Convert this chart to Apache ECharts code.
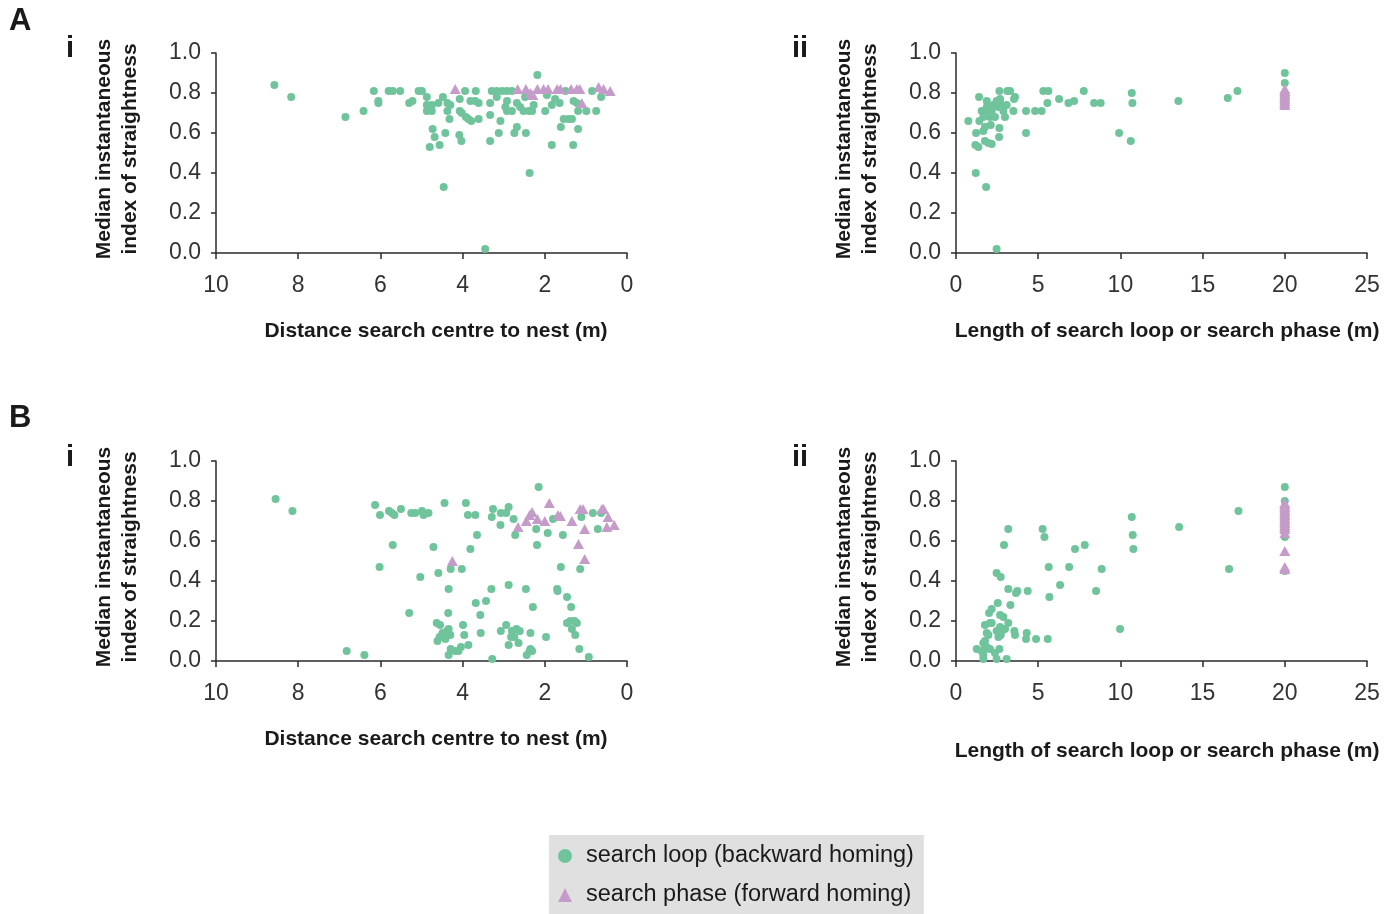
<!DOCTYPE html>
<html><head><meta charset="utf-8">
<script src="https://cdn.jsdelivr.net/npm/echarts@6/dist/echarts.min.js"></script>
<style>html,body{margin:0;padding:0;background:#fff}#c{width:1396px;height:914px}</style>
</head><body><div id="c"></div>
<script>
var seriesNames = ['search loop (backward homing)', 'search phase (forward homing)'];
var xTitleLeft = 'Distance search centre to nest (m)';
var xTitleRight = 'Length of search loop or search phase (m)';
var yTitle = 'Median instantaneous\nindex of straightness';

var aiLoop = [[8.58,0.84],[8.17,0.78],[6.85,0.68],[6.41,0.71],[6.16,0.81],[6.05,0.76],[6.05,0.75],[5.80,0.81],[5.70,0.81],[5.52,0.81],[5.30,0.75],[5.22,0.76],[5.07,0.81],[4.99,0.81],[4.87,0.78],[4.87,0.74],[4.87,0.71],[4.75,0.74],[4.75,0.71],[4.59,0.75],[4.48,0.78],[4.37,0.75],[4.37,0.71],[4.30,0.74],[4.32,0.67],[4.73,0.62],[4.68,0.58],[4.42,0.60],[4.56,0.54],[4.80,0.53],[4.46,0.33],[4.07,0.77],[4.07,0.71],[4.02,0.70],[3.92,0.68],[3.86,0.67],[3.79,0.66],[3.61,0.67],[3.94,0.81],[3.68,0.81],[4.08,0.59],[4.03,0.56],[3.81,0.76],[3.69,0.76],[3.61,0.75],[3.33,0.75],[3.33,0.69],[3.08,0.66],[3.12,0.60],[3.33,0.56],[3.29,0.81],[3.17,0.81],[3.04,0.81],[2.92,0.81],[2.80,0.81],[3.17,0.78],[2.96,0.73],[2.92,0.71],[2.80,0.71],[2.92,0.76],[2.68,0.75],[2.60,0.73],[2.52,0.71],[2.39,0.71],[2.31,0.71],[2.27,0.74],[2.68,0.63],[2.74,0.60],[2.46,0.60],[2.37,0.40],[3.45,0.02],[2.18,0.89],[2.48,0.78],[1.99,0.71],[1.95,0.79],[1.83,0.74],[1.75,0.77],[1.64,0.75],[1.61,0.63],[1.83,0.54],[1.50,0.81],[1.54,0.67],[1.42,0.67],[1.34,0.67],[1.31,0.54],[1.30,0.76],[1.22,0.75],[1.19,0.71],[1.19,0.62],[0.99,0.71],[0.85,0.81],[0.75,0.71],[0.63,0.78]];
var aiPhase = [[4.18,0.82],[2.66,0.82],[2.46,0.82],[2.35,0.80],[2.29,0.79],[2.18,0.82],[2.03,0.82],[1.92,0.82],[1.70,0.82],[1.62,0.82],[1.36,0.82],[1.22,0.82],[1.15,0.82],[1.10,0.75],[0.69,0.83],[0.57,0.82],[0.41,0.81]];

var aiiLoop = [[0.75,0.66],[1.40,0.78],[1.22,0.60],[1.18,0.54],[1.36,0.53],[1.20,0.40],[1.83,0.33],[2.47,0.02],[1.42,0.66],[1.56,0.71],[1.66,0.68],[1.76,0.63],[1.66,0.61],[1.87,0.76],[1.87,0.73],[1.97,0.71],[2.07,0.68],[2.17,0.71],[2.27,0.74],[2.47,0.76],[2.58,0.73],[2.68,0.77],[2.78,0.74],[2.88,0.71],[2.98,0.68],[3.08,0.74],[2.64,0.81],[3.12,0.81],[3.29,0.81],[3.59,0.78],[3.53,0.77],[3.49,0.71],[1.76,0.56],[1.97,0.55],[2.17,0.545],[2.11,0.64],[2.64,0.625],[2.62,0.58],[2.37,0.68],[4.26,0.71],[4.81,0.71],[5.21,0.71],[4.26,0.60],[5.31,0.81],[5.62,0.81],[5.56,0.75],[6.27,0.77],[6.84,0.75],[7.18,0.76],[7.77,0.81],[8.40,0.75],[8.80,0.75],[9.92,0.60],[10.63,0.56],[10.69,0.80],[10.73,0.75],[13.53,0.76],[16.53,0.775],[17.12,0.81],[20,0.90],[20,0.85],[20,0.78]];
var aiiPhase = [[20,0.82],[20,0.81],[20,0.80],[20,0.79],[20,0.78],[20,0.77],[20,0.76],[20,0.75],[20,0.74]];

var biLoop = [[8.55,0.81],[8.14,0.75],[6.82,0.05],[6.39,0.03],[6.13,0.78],[6.01,0.73],[5.79,0.75],[5.72,0.74],[5.66,0.73],[5.50,0.76],[5.25,0.74],[5.15,0.74],[4.99,0.75],[4.95,0.73],[4.83,0.74],[5.70,0.58],[6.02,0.47],[5.30,0.24],[5.03,0.42],[4.71,0.57],[4.59,0.44],[4.44,0.79],[4.29,0.46],[4.02,0.46],[4.34,0.36],[4.35,0.24],[4.63,0.19],[4.55,0.18],[4.49,0.14],[4.38,0.15],[4.34,0.16],[4.37,0.13],[4.30,0.13],[4.61,0.10],[4.56,0.12],[4.42,0.11],[4.29,0.06],[4.18,0.05],[4.10,0.05],[4.04,0.07],[3.86,0.08],[4.34,0.03],[3.99,0.18],[3.96,0.13],[3.92,0.79],[3.87,0.73],[3.69,0.73],[3.81,0.56],[3.65,0.63],[3.68,0.29],[3.57,0.23],[3.56,0.14],[3.43,0.30],[3.30,0.36],[3.26,0.76],[3.29,0.72],[3.28,0.01],[3.08,0.68],[3.07,0.74],[2.94,0.74],[2.88,0.77],[2.94,0.18],[3.07,0.15],[2.88,0.38],[2.80,0.15],[2.82,0.12],[2.74,0.12],[2.69,0.16],[2.61,0.15],[2.64,0.09],[2.88,0.08],[2.76,0.71],[2.72,0.63],[2.46,0.36],[2.29,0.27],[2.35,0.14],[2.35,0.06],[2.31,0.05],[2.44,0.03],[2.37,0.05],[2.21,0.66],[2.19,0.58],[1.97,0.12],[1.93,0.64],[1.80,0.71],[1.61,0.47],[1.70,0.36],[1.69,0.35],[1.46,0.32],[1.36,0.27],[1.46,0.19],[1.38,0.20],[1.28,0.20],[1.22,0.19],[1.34,0.16],[1.26,0.13],[1.16,0.06],[0.93,0.02],[1.56,0.63],[1.14,0.46],[1.11,0.72],[0.83,0.74],[0.71,0.66],[0.63,0.74],[2.15,0.87]];
var biPhase = [[4.25,0.50],[2.65,0.67],[2.45,0.70],[2.37,0.73],[2.31,0.745],[2.18,0.71],[2.00,0.70],[1.89,0.79],[1.68,0.73],[1.62,0.725],[1.34,0.70],[1.18,0.585],[1.14,0.76],[1.07,0.76],[1.03,0.66],[1.03,0.51],[0.61,0.76],[0.57,0.76],[0.49,0.67],[0.46,0.72],[0.31,0.68]];

var biiLoop = [[3.18,0.66],[2.92,0.58],[5.27,0.66],[5.38,0.62],[10.69,0.72],[10.75,0.63],[10.79,0.56],[13.57,0.67],[17.18,0.75],[16.61,0.46],[20,0.87],[20,0.80],[20,0.62],[20,0.45],[7.24,0.56],[7.83,0.58],[5.64,0.47],[6.88,0.47],[8.86,0.46],[6.33,0.38],[8.52,0.35],[5.68,0.32],[9.98,0.16],[2.47,0.44],[2.72,0.42],[3.18,0.36],[3.65,0.34],[3.73,0.35],[4.36,0.35],[3.31,0.28],[2.54,0.29],[2.17,0.26],[2.01,0.24],[2.68,0.23],[2.88,0.22],[3.18,0.19],[1.76,0.18],[2.07,0.19],[2.17,0.19],[1.87,0.14],[1.97,0.13],[2.47,0.15],[2.68,0.17],[2.78,0.15],[2.98,0.16],[2.58,0.12],[2.72,0.13],[3.55,0.15],[3.59,0.13],[4.30,0.14],[4.26,0.11],[4.87,0.11],[5.58,0.11],[1.66,0.09],[1.76,0.10],[1.26,0.06],[1.56,0.05],[1.66,0.03],[1.76,0.06],[2.07,0.06],[2.37,0.04],[2.64,0.06],[3.08,0.01],[1.66,0.01],[1.87,0.07],[2.47,0.01]];
var biiPhase = [[20,0.79],[20,0.78],[20,0.77],[20,0.76],[20,0.75],[20,0.74],[20,0.73],[20,0.72],[20,0.71],[20,0.70],[20,0.69],[20,0.68],[20,0.67],[20,0.66],[20,0.64],[20,0.55],[20,0.47],[20,0.46]];

var GREEN = '#70c49c', PURPLE = '#c59cc9', AX = '#2b2b2b', FONT = '"Liberation Sans", Arial, sans-serif';

var grids = [
  {left:216, top:53, width:411, height:200},
  {left:956, top:53, width:411, height:200},
  {left:216, top:461, width:411, height:200},
  {left:956, top:461, width:411, height:200}
];
function xAx(i, left) {
  return {
    gridIndex:i, type:'value', min:0, max: left ? 10 : 25, interval: left ? 2 : 5, inverse: left,
    axisLine:{show:true, onZero:false, lineStyle:{color:AX, width:1.5}},
    axisTick:{show:true, length:6, lineStyle:{color:AX, width:1.5}},
    axisLabel:{fontSize:23, color:'#333', margin:21, fontFamily:FONT},
    splitLine:{show:false}
  };
}
function yAx(i) {
  return {
    gridIndex:i, type:'value', min:0, max:1, interval:0.2,
    axisLine:{show:true, onZero:false, lineStyle:{color:AX, width:1.5}},
    axisTick:{show:true, length:5, lineStyle:{color:AX, width:1.5}},
    axisLabel:{fontSize:23, color:'#333', margin:15, fontFamily:FONT, formatter:function(v){return v.toFixed(1);}},
    splitLine:{show:false}
  };
}
var loops = [aiLoop, aiiLoop, biLoop, biiLoop];
var phases = [aiPhase, aiiPhase, biPhase, biiPhase];
var series = [];
for (var i = 0; i < 4; i++) {
  series.push({name:seriesNames[0], type:'scatter', xAxisIndex:i, yAxisIndex:i, data:loops[i], symbol:'circle', symbolSize:8, itemStyle:{color:GREEN, opacity:1}, z:2});
  series.push({name:seriesNames[1], type:'scatter', xAxisIndex:i, yAxisIndex:i, data:phases[i], symbol:'triangle', symbolSize:[11,10], itemStyle:{color:PURPLE, opacity:1}, z:3});
}
function txt(x, y, s, font, align, rot) {
  return {type:'text', x:x, y:y, rotation: rot || 0, style:{text:s, font:font, fill:'#1a1a1a', textAlign:align || 'left', textVerticalAlign:'middle', lineHeight:26}};
}
var bold21 = 'bold 21px ' + FONT;
var graphic = [
  txt(9, 21, 'A', 'bold 31px ' + FONT),
  txt(66, 49, 'i', 'bold 29px ' + FONT),
  txt(792, 49, 'ii', 'bold 29px ' + FONT),
  txt(9, 418, 'B', 'bold 31px ' + FONT),
  txt(66, 458, 'i', 'bold 29px ' + FONT),
  txt(792, 458, 'ii', 'bold 29px ' + FONT),
  txt(117, 149, yTitle, bold21, 'center', Math.PI/2),
  txt(857, 149, yTitle, bold21, 'center', Math.PI/2),
  txt(117, 557, yTitle, bold21, 'center', Math.PI/2),
  txt(857, 557, yTitle, bold21, 'center', Math.PI/2),
  txt(436, 331, xTitleLeft, bold21, 'center'),
  txt(1167, 331, xTitleRight, bold21, 'center'),
  txt(436, 739, xTitleLeft, bold21, 'center'),
  txt(1167, 751, xTitleRight, bold21, 'center')
];
var chart = echarts.init(document.getElementById('c'), null, {renderer:'canvas'});
chart.setOption({
  animation:false,
  backgroundColor:'#ffffff',
  grid:grids,
  xAxis:[xAx(0,true), xAx(1,false), xAx(2,true), xAx(3,false)],
  yAxis:[yAx(0), yAx(1), yAx(2), yAx(3)],
  legend:{
    data:seriesNames, orient:'vertical', left:549, top:835,
    backgroundColor:'#e0e0e0', padding:[9,10,7,9], itemGap:15,
    itemWidth:14, itemHeight:14,
    textStyle:{fontSize:23.5, color:'#1a1a1a', fontFamily:FONT, padding:[0,0,0,9]}
  },
  graphic:graphic,
  series:series
});
</script></body></html>
